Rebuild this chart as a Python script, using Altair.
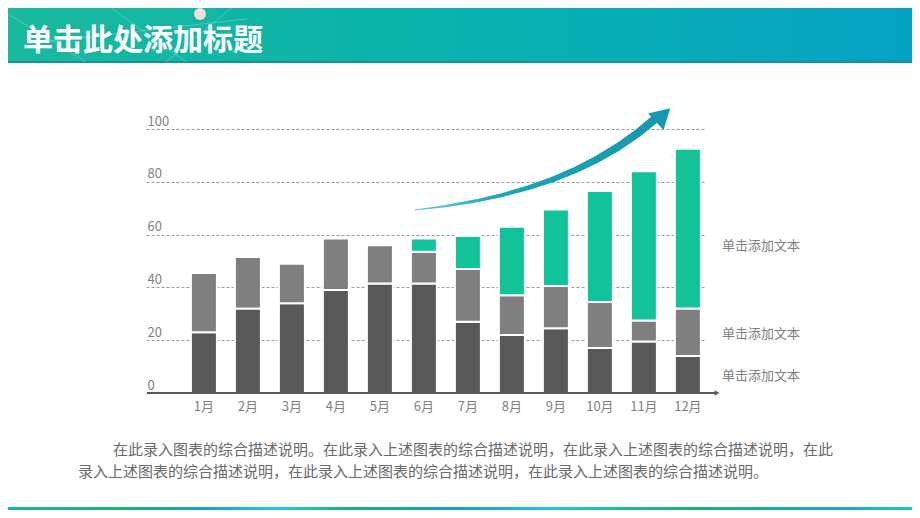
import altair as alt
import pandas as pd

# ---------------- data ----------------
months = ["1月", "2月", "3月", "4月", "5月", "6月", "7月", "8月", "9月", "10月", "11月", "12月"]
series_names = ["系列1", "系列2", "系列3"]
dark = [23, 32, 34, 39, 41.5, 41.5, 27, 22, 24.5, 17, 19.5, 14]
mid = [22.5, 19.5, 15, 19.5, 14.5, 12, 20, 15, 16, 17.5, 8, 18]
green = [0, 0, 0, 0, 0, 5, 12.5, 26, 29, 42, 56.5, 60.5]
y_ticks = [0, 20, 40, 60, 80, 100]

legend_labels = ["单击添加文本", "单击添加文本", "单击添加文本"]
legend_values = [55.5, 22.5, 6.3]

title_text = "单击此处添加标题"
desc_line1 = "在此录入图表的综合描述说明。在此录入上述图表的综合描述说明，在此录入上述图表的综合描述说明，在此"
desc_line2 = "录入上述图表的综合描述说明，在此录入上述图表的综合描述说明，在此录入上述图表的综合描述说明。"

# decorative growth arrow (pixel path inside plot area)
arrow_px = [269, 299.5, 328.5, 356.1, 382.3, 407, 430.3, 452.1, 472.5, 491.5, 509]
arrow_py = [81, 77.2, 72.2, 66.1, 58.8, 50.3, 40.6, 29.7, 17.6, 4.4, -10]
arrow_w = [1.2, 2.2, 3.2, 4, 4.8, 5.6, 6.4, 7.2, 7.8, 8.2, 8.6]

FONT = "Noto Sans CJK SC"
W, H = 559, 264

rows = []
for i, m in enumerate(months):
    for k, vals in enumerate([dark, mid, green]):
        if vals[i] > 0:
            rows.append({"month": m, "series": series_names[k], "ord": k, "value": vals[i]})
df = pd.DataFrame(rows)

one = alt.Data(values=[{"a": 1}])

# ---------------- banner ----------------
banner = alt.Chart(one).mark_rect(
    color=alt.LinearGradient(
        gradient="linear", x1=0, x2=1, y1=0, y2=0,
        stops=[alt.GradientStop(offset=0, color="#19b99c"),
               alt.GradientStop(offset=0.5, color="#09b2ae"),
               alt.GradientStop(offset=1, color="#06a2c4")])
).encode(x=alt.value(-140), x2=alt.value(770), y=alt.value(-125), y2=alt.value(-68))

banner_line = alt.Chart(one).mark_rect(color="#1592a0").encode(
    x=alt.value(-140), x2=alt.value(770), y=alt.value(-68), y2=alt.value(-66))

net_lines = alt.Chart(alt.Data(values=[
    {"x": -146, "y": -120, "x2": -60, "y2": -67},
    {"x": -40, "y": -125, "x2": 40, "y2": -67},
    {"x": 90, "y": -125, "x2": 20, "y2": -67},
    {"x": -120, "y": -85, "x2": 100, "y2": -110},
])).mark_rule(color="white", opacity=0.25, strokeWidth=1).encode(
    x=alt.X("x:Q", scale=None), y=alt.Y("y:Q", scale=None),
    x2="x2:Q", y2="y2:Q")

dot = alt.Chart(one).mark_point(filled=True, color="#f3dede", size=140, opacity=1).encode(
    x=alt.value(54), y=alt.value(-115))

title = alt.Chart(alt.Data(values=[{"t": title_text}])).mark_text(
    align="left", baseline="middle", font=FONT, fontSize=30, fontWeight="bold", color="white"
).encode(text="t:N", x=alt.value(-123), y=alt.value(-88))

# ---------------- bars ----------------
y_axis = alt.Axis(values=y_ticks, domain=False, ticks=False, tickSize=0, grid=True,
                  gridDash=[3, 2], gridColor="#9a9a9a", gridWidth=1,
                  labelAlign="left", labelBaseline="bottom", labelPadding=-1,
                  labelOffset=-1,
                  labelColor="#7f7f7f", labelFontSize=13, labelFont=FONT)

bars = alt.Chart(df).mark_bar(stroke="white", strokeWidth=2).encode(
    x=alt.X("month:N", sort=months, title=None,
            scale=alt.Scale(paddingInner=0.409, paddingOuter=0.557, align=0.916),
            axis=alt.Axis(labelAngle=0, domain=False, ticks=False, grid=False,
                          labelPadding=7, labelColor="#7f7f7f", labelFontSize=13, labelFont=FONT)),
    y=alt.Y("value:Q", stack="zero", title=None,
            scale=alt.Scale(domain=[0, 100], nice=False), axis=y_axis),
    color=alt.Color("series:N", legend=None,
                    scale=alt.Scale(domain=series_names, range=["#595959", "#7f7f7f", "#12c39a"])),
    order=alt.Order("ord:Q"),
)

# x axis line with arrow
axis_line = alt.Chart(one).mark_rule(color="#595959", strokeWidth=2).encode(
    x=alt.value(1), x2=alt.value(570), y=alt.value(H))
axis_arrow = alt.Chart(one).mark_point(shape="triangle-right", filled=True, color="#595959",
                                       size=30, opacity=1).encode(x=alt.value(571), y=alt.value(H))

# growth arrow
arrow_df = pd.DataFrame({"px": arrow_px, "py": arrow_py, "w": arrow_w, "i": range(len(arrow_px))})
trail = alt.Chart(arrow_df).mark_trail(
    color=alt.LinearGradient(
        gradient="linear", x1=0, x2=1, y1=0, y2=0,
        stops=[alt.GradientStop(offset=0, color="#6fcfd6"),
               alt.GradientStop(offset=0.35, color="#1ba5b5"),
               alt.GradientStop(offset=1, color="#1699ad")])
).encode(x=alt.X("px:Q", scale=None), y=alt.Y("py:Q", scale=None),
         size=alt.Size("w:Q", scale=None, legend=None), order="i:Q")

arrow_head = alt.Chart(one).mark_point(shape="triangle-up", filled=True, color="#1699ad",
                                       size=520, angle=47, opacity=1).encode(
    x=alt.value(517), y=alt.value(-14))

# right-side labels
leg_df = pd.DataFrame({"t": legend_labels, "v": legend_values})
legend_text = alt.Chart(leg_df).mark_text(
    align="left", baseline="middle", font=FONT, fontSize=13, color="#7f7f7f"
).encode(text="t:N", y=alt.Y("v:Q", title=None, axis=y_axis), x=alt.value(576))

# description
desc = alt.Chart(alt.Data(values=[{"t": desc_line1, "x": -33, "y": 321},
                                  {"t": desc_line2, "x": -68, "y": 343}])).mark_text(
    align="left", baseline="middle", font=FONT, fontSize=15, color="#6a6a6a"
).encode(text="t:N", x=alt.X("x:Q", scale=None), y=alt.Y("y:Q", scale=None))

# bottom strip
strip = alt.Chart(one).mark_rect(
    color=alt.LinearGradient(
        gradient="linear", x1=0, x2=1, y1=0, y2=0,
        stops=[alt.GradientStop(offset=0, color="#1ab3a8"),
               alt.GradientStop(offset=0.15, color="#16b27a"),
               alt.GradientStop(offset=0.22, color="#13a2d0"),
               alt.GradientStop(offset=0.3, color="#1ccde0"),
               alt.GradientStop(offset=0.38, color="#12b37c"),
               alt.GradientStop(offset=0.5, color="#12a0d0"),
               alt.GradientStop(offset=0.6, color="#1cc8dc"),
               alt.GradientStop(offset=0.75, color="#14b37a"),
               alt.GradientStop(offset=0.9, color="#13a5d2"),
               alt.GradientStop(offset=1, color="#1cc8c0")])
).encode(x=alt.value(-140), x2=alt.value(770), y=alt.value(378), y2=alt.value(395))

chart = alt.layer(
    banner, banner_line, net_lines, dot, title,
    bars, axis_line, axis_arrow, trail, arrow_head, legend_text, desc, strip
).resolve_scale(x="independent").properties(
    width=W, height=H,
    padding={"left": 138, "top": 121, "right": 207, "bottom": 117},
    autosize=alt.AutoSizeParams(type="none"),
    background="white",
).configure_view(stroke=None)

chart.save("out.html", embed_options={"renderer": "svg", "actions": False})
